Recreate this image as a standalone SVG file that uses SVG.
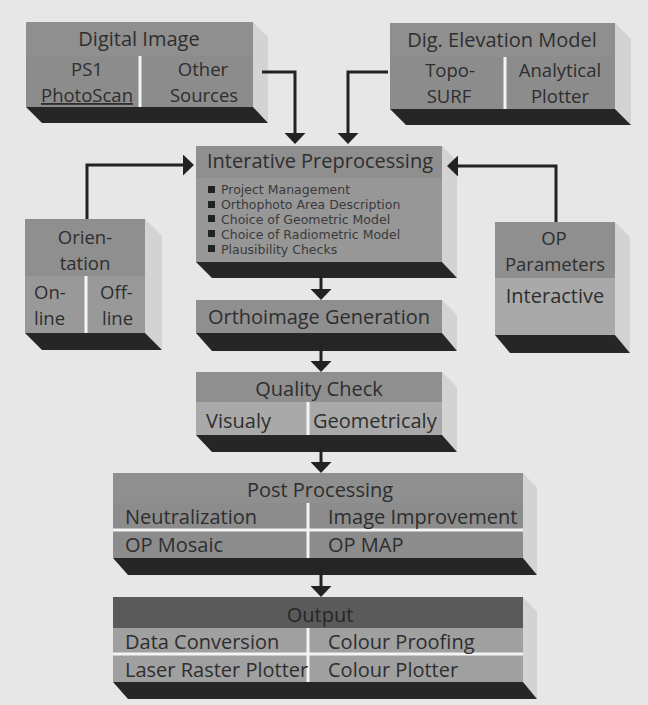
<svg xmlns="http://www.w3.org/2000/svg" width="648" height="705" viewBox="0 0 648 705">
<defs>
<style>
.bg{fill:#e7e7e7}
.hd{fill:#8f8f8f}
.bd{fill:#8c8c8c}
.lt{fill:#a9a9a9}
.dk{fill:#5a5a5a}
.sh{fill:#262626}
.sd{fill:#d3d3d3}
.dv{stroke:#f4f4f4;stroke-width:3}
text{font-family:"Open Sans","Noto Sans","DejaVu Sans",sans-serif;font-size:20px;fill:#2e2e2e}
.c{text-anchor:middle}
.tw{font-size:18.5px}
.sm{font-family:"DejaVu Sans",sans-serif;font-size:12.5px;fill:#3a3a3a}
.cn{fill:none;stroke:#222;stroke-width:3;marker-end:url(#ah)}
</style>
<marker id="ah" markerWidth="11" markerHeight="21" refX="0" refY="10.5" orient="auto" markerUnits="userSpaceOnUse">
<path d="M0,0 L11,10.5 L0,21 Z" fill="#222"/>
</marker>
</defs>
<rect class="bg" x="0" y="0" width="648" height="705"/>

<g id="digital-image">
<polygon class="sd" points="253,22 268,37 268,123 253,107"/>
<rect class="hd" x="26" y="22" width="227" height="34"/>
<rect class="bd" x="26" y="56" width="227" height="51"/>
<line class="dv" x1="140" y1="56" x2="140" y2="107"/>
<polygon class="sh" points="26,107 253,107 268,123 42,123"/>
<text class="c" x="139" y="46">Digital Image</text>
<text class="c tw" x="87" y="76">PS1</text>
<text class="c tw" x="87" y="102" text-decoration="underline">PhotoScan</text>
<text class="c tw" x="203" y="76">Other</text>
<text class="c tw" x="204" y="102">Sources</text>
</g>

<g id="dem">
<polygon class="sd" points="615,23 631,39 631,125 615,109"/>
<rect class="hd" x="390" y="23" width="225" height="34"/>
<rect class="bd" x="390" y="57" width="225" height="52"/>
<line class="dv" x1="505" y1="57" x2="505" y2="109"/>
<polygon class="sh" points="390,109 615,109 631,125 406,125"/>
<text class="c" x="502" y="47">Dig. Elevation Model</text>
<text class="c tw" x="450" y="77">Topo-</text>
<text class="c tw" x="449" y="103">SURF</text>
<text class="c tw" x="560" y="77">Analytical</text>
<text class="c tw" x="560" y="103">Plotter</text>
</g>

<g id="preprocessing">
<polygon class="sd" points="442,146 457,161 457,278 442,262"/>
<rect class="hd" x="196" y="146" width="246" height="32"/>
<rect fill="#979797" x="196" y="178" width="246" height="84"/>
<polygon class="sh" points="196,262 442,262 457,278 212,278"/>
<text x="207" y="168">Interative Preprocessing</text>
<rect x="208" y="186" width="7" height="7" fill="#222"/>
<rect x="208" y="201" width="7" height="7" fill="#222"/>
<rect x="208" y="215" width="7" height="7" fill="#222"/>
<rect x="208" y="230" width="7" height="7" fill="#222"/>
<rect x="208" y="245" width="7" height="7" fill="#222"/>
<text class="sm" x="221" y="194">Project Management</text>
<text class="sm" x="221" y="209">Orthophoto Area Description</text>
<text class="sm" x="221" y="223.5">Choice of Geometric Model</text>
<text class="sm" x="221" y="238.5">Choice of Radiometric Model</text>
<text class="sm" x="221" y="253.5">Plausibility Checks</text>
</g>

<g id="orientation">
<polygon class="sd" points="145,219 162,236 162,350 145,333"/>
<rect class="hd" x="25" y="219" width="120" height="57"/>
<rect fill="#999" x="25" y="276" width="120" height="57"/>
<line class="dv" x1="86" y1="276" x2="86" y2="333"/>
<polygon class="sh" points="25,333 145,333 162,350 42,350"/>
<text class="c tw" x="85" y="244">Orien-</text>
<text class="c tw" x="85" y="270">tation</text>
<text class="tw" x="34" y="299">On-</text>
<text class="tw" x="34" y="325">line</text>
<text class="tw" x="100" y="299">Off-</text>
<text class="tw" x="102" y="325">line</text>
</g>

<g id="op-parameters">
<polygon class="sd" points="615,222 630,237 630,353 615,335"/>
<rect class="hd" x="495" y="222" width="120" height="56"/>
<rect class="lt" x="495" y="278" width="120" height="57"/>
<polygon class="sh" points="495,335 615,335 630,353 510,353"/>
<text class="c tw" x="554" y="245">OP</text>
<text class="c tw" x="555" y="271">Parameters</text>
<text class="c" x="555" y="303">Interactive</text>
</g>

<g id="orthoimage">
<polygon class="sd" points="442,300 457,315 457,351 442,333"/>
<rect class="hd" x="196" y="300" width="246" height="33"/>
<polygon class="sh" points="196,333 442,333 457,351 212,351"/>
<text class="c" x="319" y="324">Orthoimage Generation</text>
</g>

<g id="quality-check">
<polygon class="sd" points="442,372 457,387 457,452 442,435"/>
<rect class="hd" x="196" y="372" width="246" height="30"/>
<rect class="lt" x="196" y="402" width="246" height="33"/>
<line class="dv" x1="308" y1="402" x2="308" y2="435"/>
<polygon class="sh" points="196,435 442,435 457,452 212,452"/>
<text class="c" x="319" y="396">Quality Check</text>
<text x="206" y="428">Visualy</text>
<text x="313" y="428">Geometricaly</text>
</g>

<g id="post-processing">
<polygon class="sd" points="523,473 537,488 537,575 523,558"/>
<rect class="hd" x="113" y="473" width="410" height="30"/>
<rect class="bd" x="113" y="503" width="410" height="55"/>
<line class="dv" x1="113" y1="530" x2="523" y2="530"/>
<line class="dv" x1="308" y1="503" x2="308" y2="558"/>
<polygon class="sh" points="113,558 523,558 537,575 128,575"/>
<text class="c" x="320" y="497">Post Processing</text>
<text x="125" y="524">Neutralization</text>
<text x="328" y="524">Image Improvement</text>
<text x="125" y="552">OP Mosaic</text>
<text x="328" y="552">OP MAP</text>
</g>

<g id="output">
<polygon class="sd" points="523,597 537,612 537,699 523,682"/>
<rect class="dk" x="113" y="597" width="410" height="31"/>
<rect fill="#a0a0a0" x="113" y="628" width="410" height="54"/>
<line class="dv" x1="113" y1="654" x2="523" y2="654"/>
<line class="dv" x1="308" y1="628" x2="308" y2="682"/>
<polygon class="sh" points="113,682 523,682 537,699 128,699"/>
<text class="c" x="320" y="622" style="fill:#262626">Output</text>
<text x="125" y="649">Data Conversion</text>
<text x="328" y="649">Colour Proofing</text>
<text x="125" y="677">Laser Raster Plotter</text>
<text x="328" y="677">Colour Plotter</text>
</g>

<g id="connectors">
<path class="cn" d="M262,72 H295 V133"/>
<path class="cn" d="M388,72 H348 V133"/>
<path class="cn" d="M87,219 V165 H183"/>
<path class="cn" d="M556,222 V166 H458"/>
<path class="cn" d="M321,270 V289"/>
<path class="cn" d="M321,345 V361"/>
<path class="cn" d="M321,446 V462"/>
<path class="cn" d="M321,569 V586"/>
</g>
</svg>
